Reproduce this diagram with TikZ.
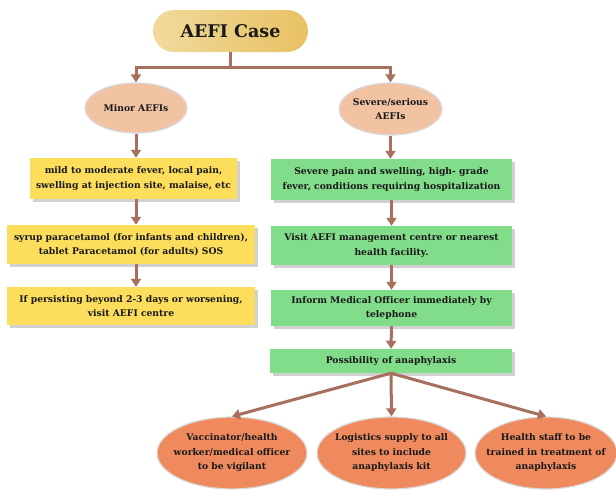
\documentclass[tikz,border=0pt]{standalone}
\usepackage{fontspec}
\setmainfont{DejaVu Serif}
\usetikzlibrary{shapes.geometric,arrows.meta,shadows}
\definecolor{arrowbrown}{HTML}{A66F5E}
\definecolor{goldL}{HTML}{F1DA9C}
\definecolor{goldR}{HTML}{E8C163}
\definecolor{peach}{HTML}{F1C3A3}
\definecolor{yel}{HTML}{FCDD5C}
\definecolor{grn}{HTML}{82DD8B}
\definecolor{salmon}{HTML}{EE8A5E}
\definecolor{rimgray}{HTML}{DADADA}
\tikzset{
  txt/.style={font=\bfseries\fontsize{9.2}{14.5}\selectfont, align=center, text=black!90},
  pill/.style={rounded corners=21pt, left color=goldL, right color=goldR, draw=none,
    font=\bfseries\fontsize{17.5}{20}\selectfont, text=black!90},
  peachell/.style={ellipse, txt, fill=peach, draw=rimgray, line width=1.2pt, inner xsep=-12pt, inner ysep=-8pt},
  ybox/.style={txt, fill=yel, draw=none, inner sep=0pt,
    drop shadow={shadow xshift=2.5pt, shadow yshift=-2.5pt, opacity=0.3, fill=black!60}},
  gbox/.style={txt, fill=grn, draw=none, inner sep=0pt,
    drop shadow={shadow xshift=2.5pt, shadow yshift=-2.5pt, opacity=0.3, fill=black!60}},
  salell/.style={ellipse, txt, fill=salmon, draw=rimgray, line width=1.2pt, inner xsep=-20pt, inner ysep=-10pt},
  conn/.style={draw=arrowbrown, line width=3pt},
  arr/.style={conn, -{Triangle[width=10pt,length=8pt]}},
}
\begin{document}
\begin{tikzpicture}[x=1pt,y=-1pt]
\useasboundingbox (0,0) rectangle (616,491);
\node[pill, minimum width=155pt, minimum height=42pt] (case) at (230.5,31) {AEFI Case};
\node[peachell, minimum width=102pt, minimum height=50pt] (minor) at (136,108) {Minor AEFIs};
\node[peachell, minimum width=103pt, minimum height=52pt] (severe) at (390.5,109) {Severe/serious\\AEFIs};

\node[ybox, minimum width=207pt, minimum height=41pt] (y1) at (133.5,178.5) {mild to moderate fever, local pain,\\swelling at injection site, malaise, etc};
\node[ybox, minimum width=248pt, minimum height=39pt] (y2) at (131,244.5) {syrup paracetamol (for infants and children),\\tablet Paracetamol (for adults) SOS};
\node[ybox, minimum width=248pt, minimum height=38pt] (y3) at (131,306) {If persisting beyond 2-3 days or worsening,\\visit AEFI centre};

\node[gbox, minimum width=241pt, minimum height=41pt] (g1) at (391.5,179.5) {Severe pain and swelling, high- grade\\fever, conditions requiring hospitalization};
\node[gbox, minimum width=241pt, minimum height=39pt] (g2) at (391.5,245.5) {Visit AEFI management centre or nearest\\health facility.};
\node[gbox, minimum width=241pt, minimum height=36pt] (g3) at (391.5,308) {Inform Medical Officer immediately by\\telephone};
\node[gbox, minimum width=242pt, minimum height=24pt] (g4) at (391,361) {Possibility of anaphylaxis};

\node[salell, minimum width=150pt, minimum height=72pt] (b1) at (232,453) {Vaccinator/health\\worker/medical officer\\to be vigilant};
\node[salell, minimum width=149pt, minimum height=72pt] (b2) at (391.5,453) {Logistics supply to all\\sites to include\\anaphylaxis kit};
\node[salell, minimum width=142pt, minimum height=72pt] (b3) at (546,453) {Health staff to be\\trained in treatment of\\anaphylaxis};

\coordinate (j) at (230.5,67);
\draw[arr] (case.south) -- (j) -| (minor.north);
\draw[arr] (j) -| (severe.north);
\draw[arr] (minor.south) -- (minor.south |- y1.north);
\draw[arr] (severe.south) -- (severe.south |- g1.north);
\draw[arr] (minor.south |- y1.south) -- (minor.south |- y2.north);
\draw[arr] (minor.south |- y2.south) -- (minor.south |- y3.north);
\draw[arr] (g1.south) -- (g2.north);
\draw[arr] (g2.south) -- (g3.north);
\draw[arr] (g3.south) -- (g4.north);
\draw[arr] (g4.south) -- (b1.north);
\draw[arr] (g4.south) -- (b2.north);
\draw[arr] (g4.south) -- (b3.north);
\end{tikzpicture}
\end{document}
